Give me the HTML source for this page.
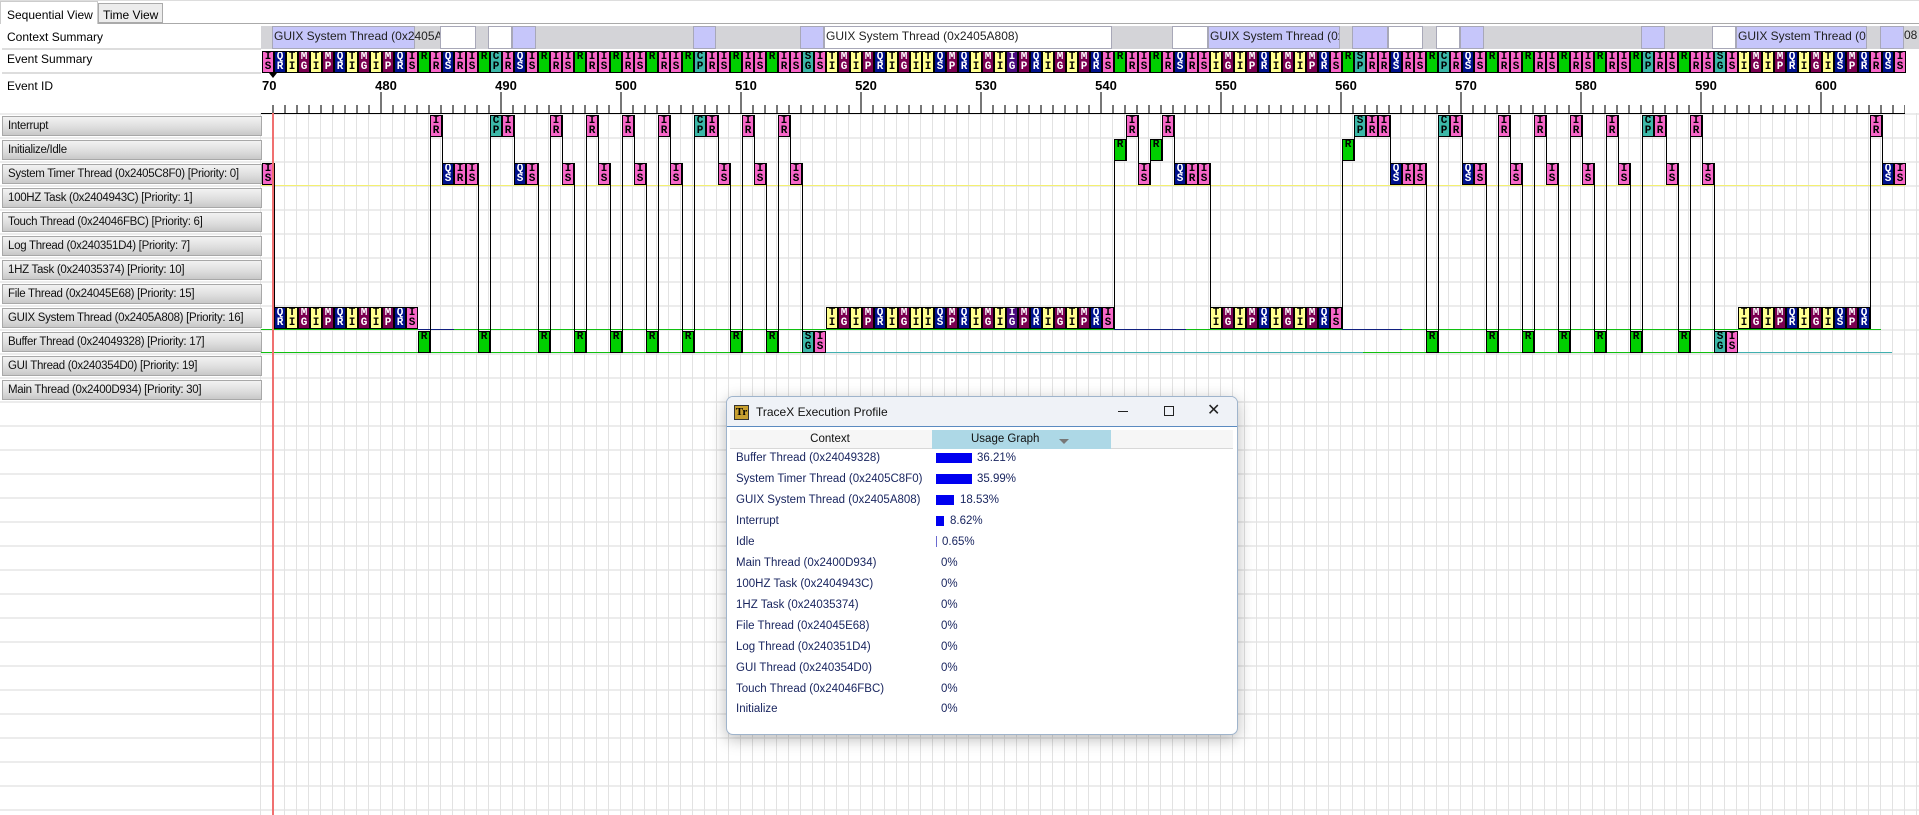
<!DOCTYPE html>
<html><head><meta charset="utf-8"><style>
*{margin:0;padding:0;box-sizing:border-box}
body{width:1919px;height:815px;position:relative;overflow:hidden;background:#fff;font-family:"Liberation Sans",sans-serif;font-size:12px;color:#000}
.a{position:absolute}
#grid{position:absolute;left:260px;top:113px;width:1659px;height:702px;background:repeating-linear-gradient(to right,#e2e2e2 0 1px,transparent 1px 12px)}
#hgrid{position:absolute;left:0;top:113px;width:1919px;height:702px;background:repeating-linear-gradient(to bottom,#ececec 0 2px,transparent 2px 24px)}
.btn{position:absolute;left:2px;width:260px;height:20px;border:1px solid #a8a8a8;background:linear-gradient(#f2f2f2,#dcdcdc 60%,#c8c8c8);padding-left:5px;font-size:11.5px;letter-spacing:-0.3px;line-height:18px;color:#111;white-space:nowrap;overflow:hidden}
.b{position:absolute;width:12px;height:22px;border:1px solid #000;font:bold 11px/10px "Liberation Mono",monospace;text-align:center;overflow:hidden;padding-top:0}
.p{background:#f766c8;color:#000}.q{background:#00108c;color:#fff}.y{background:#ffff90;color:#000}.m{background:#7a0050;color:#fff}.g{background:#00d000;color:#000}.t{background:#3cb8a8;color:#000}.v{background:#4a0a80;color:#fff}
.vl{position:absolute;width:1px;background:#000}
.ctx{position:absolute;top:26px;height:23px;border:1px solid #a8a8b8}
.lv{background:#c6c6fa}.wh{background:#fff}
.ctx span{position:absolute;left:1px;top:2px;font-size:12px;white-space:nowrap;color:#222}
.num{position:absolute;top:78px;width:40px;text-align:center;font:bold 13px "Liberation Sans",sans-serif}
.mt{position:absolute;top:92px;width:2px;height:21px;background:#777}
.row{position:absolute;left:736px;font-size:11.5px;color:#1a2660;white-space:nowrap}
.pc{position:absolute;font-size:11.5px;color:#1a2660;white-space:nowrap}
.bar{position:absolute;height:10px;background:#0000f0}
</style></head><body>
<div id="hgrid"></div>
<div id="grid"></div>
<div class="a" style="left:0;top:113px;width:260px;height:702px;background:#fff"></div>
<div class="a" style="left:0;top:113px;width:260px;height:702px;background:repeating-linear-gradient(to bottom,#ececec 0 2px,transparent 2px 24px)"></div>
<!-- tabs -->
<div class="a" style="left:0;top:0;width:1919px;height:1px;background:#ddd"></div>
<div class="a" style="left:0;top:23px;width:1919px;height:1px;background:#aaa"></div>
<div class="a" style="left:0;top:1px;width:98px;height:23px;background:#fff;border:1px solid #ccc;border-bottom:none;padding:6px 0 0 6px">Sequential View</div>
<div class="a" style="left:98px;top:3px;width:65px;height:20px;background:#ececec;border:1px solid #aaa;padding:4px 0 0 4px">Time View</div>
<div class="a" style="left:7px;top:30px">Context Summary</div>
<div class="a" style="left:2px;top:48px;width:259px;height:2px;background:#ddd"></div>
<div class="a" style="left:7px;top:52px">Event Summary</div>
<div class="a" style="left:2px;top:72px;width:259px;height:2px;background:#ddd"></div>
<div class="a" style="left:7px;top:79px">Event ID</div>
<!-- buttons -->
<div class="btn" style="top:116px">Interrupt</div>
<div class="btn" style="top:140px">Initialize/Idle</div>
<div class="btn" style="top:164px">System Timer Thread (0x2405C8F0) [Priority: 0]</div>
<div class="btn" style="top:188px">100HZ Task (0x2404943C) [Priority: 1]</div>
<div class="btn" style="top:212px">Touch Thread (0x24046FBC) [Priority: 6]</div>
<div class="btn" style="top:236px">Log Thread (0x240351D4) [Priority: 7]</div>
<div class="btn" style="top:260px">1HZ Task (0x24035374) [Priority: 10]</div>
<div class="btn" style="top:284px">File Thread (0x24045E68) [Priority: 15]</div>
<div class="btn" style="top:308px">GUIX System Thread (0x2405A808) [Priority: 16]</div>
<div class="btn" style="top:332px">Buffer Thread (0x24049328) [Priority: 17]</div>
<div class="btn" style="top:356px">GUI Thread (0x240354D0) [Priority: 19]</div>
<div class="btn" style="top:380px">Main Thread (0x2400D934) [Priority: 30]</div>
<!-- context summary -->
<div class="a" style="left:261px;top:26px;width:1658px;height:23px;background:#d4d4d8"></div>
<div class="ctx lv" style="left:272px;width:143px"><span>GUIX System Thread (0x2405A8</span></div>
<div class="ctx wh" style="left:440px;width:36px"></div>
<div class="ctx wh" style="left:488px;width:24px"></div>
<div class="ctx lv" style="left:512px;width:24px"></div>
<div class="ctx lv" style="left:693px;width:23px"></div>
<div class="ctx lv" style="left:800px;width:24px"></div>
<div class="ctx wh" style="left:824px;width:288px"><span>GUIX System Thread (0x2405A808)</span></div>
<div class="ctx wh" style="left:1172px;width:36px"></div>
<div class="ctx lv" style="left:1208px;width:132px;overflow:hidden"><span>GUIX System Thread (0x2405A808)</span></div>
<div class="ctx lv" style="left:1352px;width:36px"></div>
<div class="ctx wh" style="left:1388px;width:35px"></div>
<div class="ctx wh" style="left:1436px;width:24px"></div>
<div class="ctx lv" style="left:1460px;width:24px"></div>
<div class="ctx lv" style="left:1641px;width:24px"></div>
<div class="ctx wh" style="left:1712px;width:24px"></div>
<div class="ctx lv" style="left:1736px;width:131px;overflow:hidden"><span>GUIX System Thread (0x2405A808)</span></div>
<div class="ctx lv" style="left:1880px;width:24px"></div>
<div class="a" style="left:1904px;top:28px;font-size:12px;color:#222">08</div>
<!-- event id axis -->
<div class="a" style="left:262px;top:78px;font:bold 13px 'Liberation Sans',sans-serif">70</div>
<div class="num" style="left:366px">480</div><div class="num" style="left:486px">490</div><div class="num" style="left:606px">500</div><div class="num" style="left:726px">510</div><div class="num" style="left:846px">520</div><div class="num" style="left:966px">530</div><div class="num" style="left:1086px">540</div><div class="num" style="left:1206px">550</div><div class="num" style="left:1326px">560</div><div class="num" style="left:1446px">570</div><div class="num" style="left:1566px">580</div><div class="num" style="left:1686px">590</div><div class="num" style="left:1806px">600</div>
<div class="a" style="left:272px;top:105px;width:1633px;height:8px;background:repeating-linear-gradient(to right,#777 0 2px,transparent 2px 12px)"></div>
<div class="mt" style="left:380px"></div><div class="mt" style="left:500px"></div><div class="mt" style="left:620px"></div><div class="mt" style="left:740px"></div><div class="mt" style="left:860px"></div><div class="mt" style="left:980px"></div><div class="mt" style="left:1100px"></div><div class="mt" style="left:1220px"></div><div class="mt" style="left:1340px"></div><div class="mt" style="left:1460px"></div><div class="mt" style="left:1580px"></div><div class="mt" style="left:1700px"></div><div class="mt" style="left:1820px"></div>
<div class="a" style="left:261px;top:113px;width:1644px;height:1px;background:#000"></div>
<!-- baselines -->
<div class="a" style="left:261px;top:185px;width:1644px;height:1px;background:#f4f070"></div>
<div class="a" style="left:261px;top:329px;width:1620px;height:1px;background:#10c010"></div>
<div class="a" style="left:418px;top:329px;width:36px;height:1px;background:#102080"></div>
<div class="a" style="left:1114px;top:329px;width:72px;height:1px;background:#102080"></div>
<div class="a" style="left:1342px;top:329px;width:60px;height:1px;background:#102080"></div>
<div class="a" style="left:261px;top:352px;width:563px;height:1px;background:#10c010"></div>
<div class="a" style="left:824px;top:352px;width:539px;height:1px;background:#40b0b0"></div>
<div class="a" style="left:1363px;top:352px;width:366px;height:1px;background:#10c010"></div>
<div class="a" style="left:1729px;top:352px;width:163px;height:1px;background:#40b0b0"></div>
<!-- transition lines -->
<div class="vl" style="left:274px;top:163px;height:166px"></div>
<div class="vl" style="left:430px;top:115px;height:238px"></div>
<div class="vl" style="left:442px;top:115px;height:70px"></div>
<div class="vl" style="left:478px;top:163px;height:190px"></div>
<div class="vl" style="left:490px;top:115px;height:238px"></div>
<div class="vl" style="left:514px;top:115px;height:70px"></div>
<div class="vl" style="left:538px;top:163px;height:190px"></div>
<div class="vl" style="left:550px;top:115px;height:238px"></div>
<div class="vl" style="left:562px;top:115px;height:70px"></div>
<div class="vl" style="left:574px;top:163px;height:190px"></div>
<div class="vl" style="left:586px;top:115px;height:238px"></div>
<div class="vl" style="left:598px;top:115px;height:70px"></div>
<div class="vl" style="left:610px;top:163px;height:190px"></div>
<div class="vl" style="left:622px;top:115px;height:238px"></div>
<div class="vl" style="left:634px;top:115px;height:70px"></div>
<div class="vl" style="left:646px;top:163px;height:190px"></div>
<div class="vl" style="left:658px;top:115px;height:238px"></div>
<div class="vl" style="left:670px;top:115px;height:70px"></div>
<div class="vl" style="left:682px;top:163px;height:190px"></div>
<div class="vl" style="left:694px;top:115px;height:238px"></div>
<div class="vl" style="left:718px;top:115px;height:70px"></div>
<div class="vl" style="left:730px;top:163px;height:190px"></div>
<div class="vl" style="left:742px;top:115px;height:238px"></div>
<div class="vl" style="left:754px;top:115px;height:70px"></div>
<div class="vl" style="left:766px;top:163px;height:190px"></div>
<div class="vl" style="left:778px;top:115px;height:238px"></div>
<div class="vl" style="left:790px;top:115px;height:70px"></div>
<div class="vl" style="left:802px;top:163px;height:190px"></div>
<div class="vl" style="left:1114px;top:139px;height:190px"></div>
<div class="vl" style="left:1126px;top:115px;height:46px"></div>
<div class="vl" style="left:1138px;top:115px;height:70px"></div>
<div class="vl" style="left:1150px;top:139px;height:46px"></div>
<div class="vl" style="left:1162px;top:115px;height:46px"></div>
<div class="vl" style="left:1174px;top:115px;height:70px"></div>
<div class="vl" style="left:1210px;top:163px;height:166px"></div>
<div class="vl" style="left:1342px;top:139px;height:190px"></div>
<div class="vl" style="left:1354px;top:115px;height:46px"></div>
<div class="vl" style="left:1390px;top:115px;height:70px"></div>
<div class="vl" style="left:1426px;top:163px;height:190px"></div>
<div class="vl" style="left:1438px;top:115px;height:238px"></div>
<div class="vl" style="left:1462px;top:115px;height:70px"></div>
<div class="vl" style="left:1486px;top:163px;height:190px"></div>
<div class="vl" style="left:1498px;top:115px;height:238px"></div>
<div class="vl" style="left:1510px;top:115px;height:70px"></div>
<div class="vl" style="left:1522px;top:163px;height:190px"></div>
<div class="vl" style="left:1534px;top:115px;height:238px"></div>
<div class="vl" style="left:1546px;top:115px;height:70px"></div>
<div class="vl" style="left:1558px;top:163px;height:190px"></div>
<div class="vl" style="left:1570px;top:115px;height:238px"></div>
<div class="vl" style="left:1582px;top:115px;height:70px"></div>
<div class="vl" style="left:1594px;top:163px;height:190px"></div>
<div class="vl" style="left:1606px;top:115px;height:238px"></div>
<div class="vl" style="left:1618px;top:115px;height:70px"></div>
<div class="vl" style="left:1630px;top:163px;height:190px"></div>
<div class="vl" style="left:1642px;top:115px;height:238px"></div>
<div class="vl" style="left:1666px;top:115px;height:70px"></div>
<div class="vl" style="left:1678px;top:163px;height:190px"></div>
<div class="vl" style="left:1690px;top:115px;height:238px"></div>
<div class="vl" style="left:1702px;top:115px;height:70px"></div>
<div class="vl" style="left:1714px;top:163px;height:190px"></div>
<div class="vl" style="left:1870px;top:115px;height:214px"></div>
<div class="vl" style="left:1882px;top:115px;height:70px"></div>
<!-- summary row -->
<div class="b p" style="left:262px;top:51px">I<br>S</div><div class="b q" style="left:274px;top:51px">Q<br>R</div><div class="b y" style="left:286px;top:51px">T<br>I</div><div class="b m" style="left:298px;top:51px">M<br>G</div><div class="b y" style="left:310px;top:51px">T<br>I</div><div class="b m" style="left:322px;top:51px">M<br>P</div><div class="b q" style="left:334px;top:51px">Q<br>R</div><div class="b y" style="left:346px;top:51px">T<br>I</div><div class="b m" style="left:358px;top:51px">M<br>G</div><div class="b y" style="left:370px;top:51px">T<br>I</div><div class="b m" style="left:382px;top:51px">M<br>P</div><div class="b q" style="left:394px;top:51px">Q<br>R</div><div class="b p" style="left:406px;top:51px">I<br>S</div><div class="b g" style="left:418px;top:51px">R</div><div class="b p" style="left:430px;top:51px">I<br>R</div><div class="b q" style="left:442px;top:51px">Q<br>S</div><div class="b p" style="left:454px;top:51px">I<br>R</div><div class="b p" style="left:466px;top:51px">I<br>S</div><div class="b g" style="left:478px;top:51px">R</div><div class="b t" style="left:490px;top:51px">C<br>P</div><div class="b p" style="left:502px;top:51px">I<br>R</div><div class="b q" style="left:514px;top:51px">Q<br>S</div><div class="b p" style="left:526px;top:51px">I<br>S</div><div class="b g" style="left:538px;top:51px">R</div><div class="b p" style="left:550px;top:51px">I<br>R</div><div class="b p" style="left:562px;top:51px">I<br>S</div><div class="b g" style="left:574px;top:51px">R</div><div class="b p" style="left:586px;top:51px">I<br>R</div><div class="b p" style="left:598px;top:51px">I<br>S</div><div class="b g" style="left:610px;top:51px">R</div><div class="b p" style="left:622px;top:51px">I<br>R</div><div class="b p" style="left:634px;top:51px">I<br>S</div><div class="b g" style="left:646px;top:51px">R</div><div class="b p" style="left:658px;top:51px">I<br>R</div><div class="b p" style="left:670px;top:51px">I<br>S</div><div class="b g" style="left:682px;top:51px">R</div><div class="b t" style="left:694px;top:51px">C<br>P</div><div class="b p" style="left:706px;top:51px">I<br>R</div><div class="b p" style="left:718px;top:51px">I<br>S</div><div class="b g" style="left:730px;top:51px">R</div><div class="b p" style="left:742px;top:51px">I<br>R</div><div class="b p" style="left:754px;top:51px">I<br>S</div><div class="b g" style="left:766px;top:51px">R</div><div class="b p" style="left:778px;top:51px">I<br>R</div><div class="b p" style="left:790px;top:51px">I<br>S</div><div class="b t" style="left:802px;top:51px">S<br>G</div><div class="b p" style="left:814px;top:51px">I<br>S</div><div class="b y" style="left:826px;top:51px">T<br>I</div><div class="b m" style="left:838px;top:51px">M<br>G</div><div class="b y" style="left:850px;top:51px">T<br>I</div><div class="b m" style="left:862px;top:51px">M<br>P</div><div class="b q" style="left:874px;top:51px">Q<br>R</div><div class="b y" style="left:886px;top:51px">T<br>I</div><div class="b m" style="left:898px;top:51px">M<br>G</div><div class="b y" style="left:910px;top:51px">T<br>I</div><div class="b y" style="left:922px;top:51px">T<br>I</div><div class="b q" style="left:934px;top:51px">Q<br>S</div><div class="b m" style="left:946px;top:51px">M<br>P</div><div class="b q" style="left:958px;top:51px">Q<br>R</div><div class="b y" style="left:970px;top:51px">T<br>I</div><div class="b m" style="left:982px;top:51px">M<br>G</div><div class="b y" style="left:994px;top:51px">T<br>I</div><div class="b v" style="left:1006px;top:51px">I<br>G</div><div class="b m" style="left:1018px;top:51px">M<br>P</div><div class="b q" style="left:1030px;top:51px">Q<br>R</div><div class="b y" style="left:1042px;top:51px">T<br>I</div><div class="b m" style="left:1054px;top:51px">M<br>G</div><div class="b y" style="left:1066px;top:51px">T<br>I</div><div class="b m" style="left:1078px;top:51px">M<br>P</div><div class="b q" style="left:1090px;top:51px">Q<br>R</div><div class="b p" style="left:1102px;top:51px">I<br>S</div><div class="b g" style="left:1114px;top:51px">R</div><div class="b p" style="left:1126px;top:51px">I<br>R</div><div class="b p" style="left:1138px;top:51px">I<br>S</div><div class="b g" style="left:1150px;top:51px">R</div><div class="b p" style="left:1162px;top:51px">I<br>R</div><div class="b q" style="left:1174px;top:51px">Q<br>S</div><div class="b p" style="left:1186px;top:51px">I<br>R</div><div class="b p" style="left:1198px;top:51px">I<br>S</div><div class="b y" style="left:1210px;top:51px">T<br>I</div><div class="b m" style="left:1222px;top:51px">M<br>G</div><div class="b y" style="left:1234px;top:51px">T<br>I</div><div class="b m" style="left:1246px;top:51px">M<br>P</div><div class="b q" style="left:1258px;top:51px">Q<br>R</div><div class="b y" style="left:1270px;top:51px">T<br>I</div><div class="b m" style="left:1282px;top:51px">M<br>G</div><div class="b y" style="left:1294px;top:51px">T<br>I</div><div class="b m" style="left:1306px;top:51px">M<br>P</div><div class="b q" style="left:1318px;top:51px">Q<br>R</div><div class="b p" style="left:1330px;top:51px">I<br>S</div><div class="b g" style="left:1342px;top:51px">R</div><div class="b t" style="left:1354px;top:51px">S<br>P</div><div class="b p" style="left:1366px;top:51px">I<br>R</div><div class="b p" style="left:1378px;top:51px">I<br>R</div><div class="b q" style="left:1390px;top:51px">Q<br>S</div><div class="b p" style="left:1402px;top:51px">I<br>R</div><div class="b p" style="left:1414px;top:51px">I<br>S</div><div class="b g" style="left:1426px;top:51px">R</div><div class="b t" style="left:1438px;top:51px">C<br>P</div><div class="b p" style="left:1450px;top:51px">I<br>R</div><div class="b q" style="left:1462px;top:51px">Q<br>S</div><div class="b p" style="left:1474px;top:51px">I<br>S</div><div class="b g" style="left:1486px;top:51px">R</div><div class="b p" style="left:1498px;top:51px">I<br>R</div><div class="b p" style="left:1510px;top:51px">I<br>S</div><div class="b g" style="left:1522px;top:51px">R</div><div class="b p" style="left:1534px;top:51px">I<br>R</div><div class="b p" style="left:1546px;top:51px">I<br>S</div><div class="b g" style="left:1558px;top:51px">R</div><div class="b p" style="left:1570px;top:51px">I<br>R</div><div class="b p" style="left:1582px;top:51px">I<br>S</div><div class="b g" style="left:1594px;top:51px">R</div><div class="b p" style="left:1606px;top:51px">I<br>R</div><div class="b p" style="left:1618px;top:51px">I<br>S</div><div class="b g" style="left:1630px;top:51px">R</div><div class="b t" style="left:1642px;top:51px">C<br>P</div><div class="b p" style="left:1654px;top:51px">I<br>R</div><div class="b p" style="left:1666px;top:51px">I<br>S</div><div class="b g" style="left:1678px;top:51px">R</div><div class="b p" style="left:1690px;top:51px">I<br>R</div><div class="b p" style="left:1702px;top:51px">I<br>S</div><div class="b t" style="left:1714px;top:51px">S<br>G</div><div class="b p" style="left:1726px;top:51px">I<br>S</div><div class="b y" style="left:1738px;top:51px">T<br>I</div><div class="b m" style="left:1750px;top:51px">M<br>G</div><div class="b y" style="left:1762px;top:51px">T<br>I</div><div class="b m" style="left:1774px;top:51px">M<br>P</div><div class="b q" style="left:1786px;top:51px">Q<br>R</div><div class="b y" style="left:1798px;top:51px">T<br>I</div><div class="b m" style="left:1810px;top:51px">M<br>G</div><div class="b y" style="left:1822px;top:51px">T<br>I</div><div class="b q" style="left:1834px;top:51px">Q<br>S</div><div class="b m" style="left:1846px;top:51px">M<br>P</div><div class="b q" style="left:1858px;top:51px">Q<br>R</div><div class="b p" style="left:1870px;top:51px">I<br>R</div><div class="b q" style="left:1882px;top:51px">Q<br>S</div><div class="b p" style="left:1894px;top:51px">I<br>S</div>
<!-- thread rows -->
<div class="b p" style="left:262px;top:163px">I<br>S</div><div class="b q" style="left:274px;top:307px">Q<br>R</div><div class="b y" style="left:286px;top:307px">T<br>I</div><div class="b m" style="left:298px;top:307px">M<br>G</div><div class="b y" style="left:310px;top:307px">T<br>I</div><div class="b m" style="left:322px;top:307px">M<br>P</div><div class="b q" style="left:334px;top:307px">Q<br>R</div><div class="b y" style="left:346px;top:307px">T<br>I</div><div class="b m" style="left:358px;top:307px">M<br>G</div><div class="b y" style="left:370px;top:307px">T<br>I</div><div class="b m" style="left:382px;top:307px">M<br>P</div><div class="b q" style="left:394px;top:307px">Q<br>R</div><div class="b p" style="left:406px;top:307px">I<br>S</div><div class="b g" style="left:418px;top:331px">R</div><div class="b p" style="left:430px;top:115px">I<br>R</div><div class="b q" style="left:442px;top:163px">Q<br>S</div><div class="b p" style="left:454px;top:163px">I<br>R</div><div class="b p" style="left:466px;top:163px">I<br>S</div><div class="b g" style="left:478px;top:331px">R</div><div class="b t" style="left:490px;top:115px">C<br>P</div><div class="b p" style="left:502px;top:115px">I<br>R</div><div class="b q" style="left:514px;top:163px">Q<br>S</div><div class="b p" style="left:526px;top:163px">I<br>S</div><div class="b g" style="left:538px;top:331px">R</div><div class="b p" style="left:550px;top:115px">I<br>R</div><div class="b p" style="left:562px;top:163px">I<br>S</div><div class="b g" style="left:574px;top:331px">R</div><div class="b p" style="left:586px;top:115px">I<br>R</div><div class="b p" style="left:598px;top:163px">I<br>S</div><div class="b g" style="left:610px;top:331px">R</div><div class="b p" style="left:622px;top:115px">I<br>R</div><div class="b p" style="left:634px;top:163px">I<br>S</div><div class="b g" style="left:646px;top:331px">R</div><div class="b p" style="left:658px;top:115px">I<br>R</div><div class="b p" style="left:670px;top:163px">I<br>S</div><div class="b g" style="left:682px;top:331px">R</div><div class="b t" style="left:694px;top:115px">C<br>P</div><div class="b p" style="left:706px;top:115px">I<br>R</div><div class="b p" style="left:718px;top:163px">I<br>S</div><div class="b g" style="left:730px;top:331px">R</div><div class="b p" style="left:742px;top:115px">I<br>R</div><div class="b p" style="left:754px;top:163px">I<br>S</div><div class="b g" style="left:766px;top:331px">R</div><div class="b p" style="left:778px;top:115px">I<br>R</div><div class="b p" style="left:790px;top:163px">I<br>S</div><div class="b t" style="left:802px;top:331px">S<br>G</div><div class="b p" style="left:814px;top:331px">I<br>S</div><div class="b y" style="left:826px;top:307px">T<br>I</div><div class="b m" style="left:838px;top:307px">M<br>G</div><div class="b y" style="left:850px;top:307px">T<br>I</div><div class="b m" style="left:862px;top:307px">M<br>P</div><div class="b q" style="left:874px;top:307px">Q<br>R</div><div class="b y" style="left:886px;top:307px">T<br>I</div><div class="b m" style="left:898px;top:307px">M<br>G</div><div class="b y" style="left:910px;top:307px">T<br>I</div><div class="b y" style="left:922px;top:307px">T<br>I</div><div class="b q" style="left:934px;top:307px">Q<br>S</div><div class="b m" style="left:946px;top:307px">M<br>P</div><div class="b q" style="left:958px;top:307px">Q<br>R</div><div class="b y" style="left:970px;top:307px">T<br>I</div><div class="b m" style="left:982px;top:307px">M<br>G</div><div class="b y" style="left:994px;top:307px">T<br>I</div><div class="b v" style="left:1006px;top:307px">I<br>G</div><div class="b m" style="left:1018px;top:307px">M<br>P</div><div class="b q" style="left:1030px;top:307px">Q<br>R</div><div class="b y" style="left:1042px;top:307px">T<br>I</div><div class="b m" style="left:1054px;top:307px">M<br>G</div><div class="b y" style="left:1066px;top:307px">T<br>I</div><div class="b m" style="left:1078px;top:307px">M<br>P</div><div class="b q" style="left:1090px;top:307px">Q<br>R</div><div class="b p" style="left:1102px;top:307px">I<br>S</div><div class="b g" style="left:1114px;top:139px">R</div><div class="b p" style="left:1126px;top:115px">I<br>R</div><div class="b p" style="left:1138px;top:163px">I<br>S</div><div class="b g" style="left:1150px;top:139px">R</div><div class="b p" style="left:1162px;top:115px">I<br>R</div><div class="b q" style="left:1174px;top:163px">Q<br>S</div><div class="b p" style="left:1186px;top:163px">I<br>R</div><div class="b p" style="left:1198px;top:163px">I<br>S</div><div class="b y" style="left:1210px;top:307px">T<br>I</div><div class="b m" style="left:1222px;top:307px">M<br>G</div><div class="b y" style="left:1234px;top:307px">T<br>I</div><div class="b m" style="left:1246px;top:307px">M<br>P</div><div class="b q" style="left:1258px;top:307px">Q<br>R</div><div class="b y" style="left:1270px;top:307px">T<br>I</div><div class="b m" style="left:1282px;top:307px">M<br>G</div><div class="b y" style="left:1294px;top:307px">T<br>I</div><div class="b m" style="left:1306px;top:307px">M<br>P</div><div class="b q" style="left:1318px;top:307px">Q<br>R</div><div class="b p" style="left:1330px;top:307px">I<br>S</div><div class="b g" style="left:1342px;top:139px">R</div><div class="b t" style="left:1354px;top:115px">S<br>P</div><div class="b p" style="left:1366px;top:115px">I<br>R</div><div class="b p" style="left:1378px;top:115px">I<br>R</div><div class="b q" style="left:1390px;top:163px">Q<br>S</div><div class="b p" style="left:1402px;top:163px">I<br>R</div><div class="b p" style="left:1414px;top:163px">I<br>S</div><div class="b g" style="left:1426px;top:331px">R</div><div class="b t" style="left:1438px;top:115px">C<br>P</div><div class="b p" style="left:1450px;top:115px">I<br>R</div><div class="b q" style="left:1462px;top:163px">Q<br>S</div><div class="b p" style="left:1474px;top:163px">I<br>S</div><div class="b g" style="left:1486px;top:331px">R</div><div class="b p" style="left:1498px;top:115px">I<br>R</div><div class="b p" style="left:1510px;top:163px">I<br>S</div><div class="b g" style="left:1522px;top:331px">R</div><div class="b p" style="left:1534px;top:115px">I<br>R</div><div class="b p" style="left:1546px;top:163px">I<br>S</div><div class="b g" style="left:1558px;top:331px">R</div><div class="b p" style="left:1570px;top:115px">I<br>R</div><div class="b p" style="left:1582px;top:163px">I<br>S</div><div class="b g" style="left:1594px;top:331px">R</div><div class="b p" style="left:1606px;top:115px">I<br>R</div><div class="b p" style="left:1618px;top:163px">I<br>S</div><div class="b g" style="left:1630px;top:331px">R</div><div class="b t" style="left:1642px;top:115px">C<br>P</div><div class="b p" style="left:1654px;top:115px">I<br>R</div><div class="b p" style="left:1666px;top:163px">I<br>S</div><div class="b g" style="left:1678px;top:331px">R</div><div class="b p" style="left:1690px;top:115px">I<br>R</div><div class="b p" style="left:1702px;top:163px">I<br>S</div><div class="b t" style="left:1714px;top:331px">S<br>G</div><div class="b p" style="left:1726px;top:331px">I<br>S</div><div class="b y" style="left:1738px;top:307px">T<br>I</div><div class="b m" style="left:1750px;top:307px">M<br>G</div><div class="b y" style="left:1762px;top:307px">T<br>I</div><div class="b m" style="left:1774px;top:307px">M<br>P</div><div class="b q" style="left:1786px;top:307px">Q<br>R</div><div class="b y" style="left:1798px;top:307px">T<br>I</div><div class="b m" style="left:1810px;top:307px">M<br>G</div><div class="b y" style="left:1822px;top:307px">T<br>I</div><div class="b q" style="left:1834px;top:307px">Q<br>S</div><div class="b m" style="left:1846px;top:307px">M<br>P</div><div class="b q" style="left:1858px;top:307px">Q<br>R</div><div class="b p" style="left:1870px;top:115px">I<br>R</div><div class="b q" style="left:1882px;top:163px">Q<br>S</div><div class="b p" style="left:1894px;top:163px">I<br>S</div>
<!-- red marker -->
<div class="a" style="left:272px;top:113px;width:2px;height:702px;background:#f07070"></div>
<div class="a" style="left:269px;top:73px;width:0;height:0;border-left:4px solid transparent;border-right:4px solid transparent;border-top:5px solid #000"></div>
<!-- dialog -->
<div class="a" style="left:726px;top:396px;width:512px;height:339px;background:#fff;border:1px solid #9fb4cc;border-radius:7px;box-shadow:0 4px 16px rgba(0,0,0,0.28);overflow:hidden">
 <div class="a" style="left:0;top:0;width:512px;height:30px;background:#eff2f7;border-bottom:1px solid #5a8ac0"></div>
 <div class="a" style="left:7px;top:8px;width:15px;height:15px;background:#c8a030;border:1px solid #333;font:bold 11px/13px 'Liberation Serif',serif;color:#000;text-align:center">Tr</div>
 <div class="a" style="left:29px;top:8px;font-size:12px;color:#111">TraceX Execution Profile</div>
 <div class="a" style="left:391px;top:14px;width:10px;height:1px;background:#222"></div>
 <div class="a" style="left:437px;top:9px;width:10px;height:10px;border:1px solid #222"></div>
 <div class="a" style="left:480px;top:3px;font-size:16px;color:#222">✕</div>
 <div class="a" style="left:3px;top:33px;width:503px;height:19px;background:#f6f6f6;border-bottom:1px solid #d8d8d8"></div>
 <div class="a" style="left:205px;top:33px;width:179px;height:19px;background:#add8e6"></div>
 <div class="a" style="left:78px;top:36px;width:50px;text-align:center;font-size:11.5px;color:#111">Context</div>
 <div class="a" style="left:244px;top:36px;font-size:11.5px;color:#111">Usage Graph</div>
 <div class="a" style="left:332px;top:42px;border-left:5px solid transparent;border-right:5px solid transparent;border-top:5px solid #777"></div>
</div>
<div class="row" style="top:452px">Buffer Thread (0x24049328)</div><div class="bar" style="left:936px;top:453px;width:36px"></div><div class="pc" style="left:977px;top:452px">36.21%</div>
<div class="row" style="top:473px">System Timer Thread (0x2405C8F0)</div><div class="bar" style="left:936px;top:474px;width:36px"></div><div class="pc" style="left:977px;top:473px">35.99%</div>
<div class="row" style="top:494px">GUIX System Thread (0x2405A808)</div><div class="bar" style="left:936px;top:495px;width:18px"></div><div class="pc" style="left:960px;top:494px">18.53%</div>
<div class="row" style="top:515px">Interrupt</div><div class="bar" style="left:936px;top:516px;width:8px"></div><div class="pc" style="left:950px;top:515px">8.62%</div>
<div class="row" style="top:536px">Idle</div><div class="bar" style="left:936px;top:536px;width:1px;height:11px;background:#6a6ad0"></div><div class="pc" style="left:942px;top:536px">0.65%</div>
<div class="row" style="top:557px">Main Thread (0x2400D934)</div><div class="pc" style="left:941px;top:557px">0%</div>
<div class="row" style="top:578px">100HZ Task (0x2404943C)</div><div class="pc" style="left:941px;top:578px">0%</div>
<div class="row" style="top:599px">1HZ Task (0x24035374)</div><div class="pc" style="left:941px;top:599px">0%</div>
<div class="row" style="top:620px">File Thread (0x24045E68)</div><div class="pc" style="left:941px;top:620px">0%</div>
<div class="row" style="top:641px">Log Thread (0x240351D4)</div><div class="pc" style="left:941px;top:641px">0%</div>
<div class="row" style="top:662px">GUI Thread (0x240354D0)</div><div class="pc" style="left:941px;top:662px">0%</div>
<div class="row" style="top:683px">Touch Thread (0x24046FBC)</div><div class="pc" style="left:941px;top:683px">0%</div>
<div class="row" style="top:703px">Initialize</div><div class="pc" style="left:941px;top:703px">0%</div>
</body></html>
